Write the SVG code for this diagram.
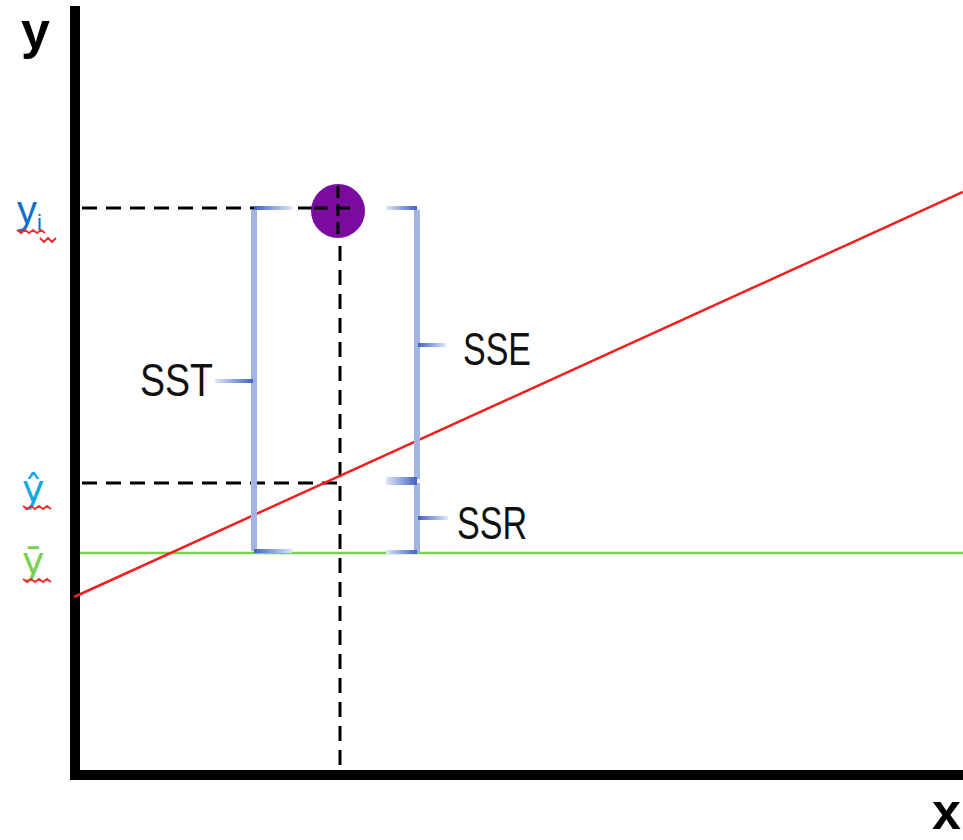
<svg xmlns="http://www.w3.org/2000/svg" width="963" height="840" viewBox="0 0 963 840">
<style>
.dash{stroke:#000;stroke-width:3;stroke-dasharray:15 9;fill:none}
.brace{stroke:#a2b5e2;stroke-width:6;fill:none}
.lbl{font-family:"Liberation Sans","DejaVu Sans",sans-serif;font-size:47px;fill:#111}
.ax{font-family:"Liberation Sans","DejaVu Sans",sans-serif;font-weight:bold;font-size:52px;fill:#000}
.sq{stroke:#f03030;stroke-width:2;fill:none}
</style>
<defs>
<linearGradient id="gR" x1="0" x2="1" y1="0" y2="0"><stop offset="0" stop-color="#3f63c2"/><stop offset="1" stop-color="#dfe6f6"/></linearGradient>
<linearGradient id="gL" x1="1" x2="0" y1="0" y2="0"><stop offset="0" stop-color="#3f63c2"/><stop offset="1" stop-color="#dfe6f6"/></linearGradient>
</defs>
<rect width="963" height="840" fill="#fff"/>
<g id="axes">
<rect x="70" y="6" width="10" height="774" fill="#000"/>
<rect x="70" y="770" width="893" height="10" fill="#000"/>
<text class="ax" x="21" y="48">y</text>
<text class="ax" x="932" y="829" font-size="44">x</text>
</g>
<g id="connectors">
<line class="dash" x1="82" y1="208" x2="340" y2="208"/>
<line class="dash" x1="82" y1="483" x2="340" y2="483"/>
<line class="dash" x1="340" y1="188" x2="340" y2="770" stroke-dashoffset="-10"/>
<line x1="80" y1="553" x2="963" y2="553" stroke="#78d050" stroke-width="2.5"/>
<line x1="74" y1="597" x2="963" y2="192" stroke="#f02020" stroke-width="2.5"/>
</g>
<g id="point"><circle cx="338" cy="211" r="27" fill="#7a0aa0"/>
<line x1="338" y1="186" x2="338" y2="236" stroke="#000" stroke-width="3" stroke-dasharray="12 6"/>
<line x1="312" y1="208" x2="356" y2="208" stroke="#000" stroke-width="3" stroke-dasharray="14 8" stroke-dashoffset="-2"/>
</g>
<g id="SST">
<line class="brace" x1="254" y1="210" x2="254" y2="551"/>
<rect x="254" y="206" width="38" height="4" fill="url(#gR)"/>
<rect x="254" y="549" width="38" height="4" fill="url(#gR)"/>
<rect x="215" y="379" width="38" height="4" fill="url(#gL)"/>
<text class="lbl" x="140" y="396" textLength="73" lengthAdjust="spacingAndGlyphs">SST</text>
</g>
<g id="SSE">
<line class="brace" x1="417" y1="210" x2="417" y2="479"/>
<rect x="386" y="206" width="31" height="4" fill="url(#gL)"/>
<rect x="386" y="477" width="31" height="4" fill="url(#gL)"/>
<rect x="418" y="343" width="28" height="4" fill="url(#gR)"/>
<text class="lbl" x="463" y="365" textLength="68" lengthAdjust="spacingAndGlyphs">SSE</text>
</g>
<g id="SSR">
<line class="brace" x1="417" y1="483" x2="417" y2="553"/>
<rect x="386" y="481" width="31" height="4" fill="url(#gL)"/>
<rect x="386" y="550" width="31" height="4" fill="url(#gL)"/>
<rect x="418" y="516" width="30" height="4" fill="url(#gR)"/>
<text class="lbl" x="457" y="539" textLength="70" lengthAdjust="spacingAndGlyphs">SSR</text>
</g>
<g id="ylabels">
<text x="17" y="224" font-family="Liberation Sans,DejaVu Sans,sans-serif" font-size="40" fill="#1070c8">y<tspan font-size="22" dy="6">i</tspan></text>
<path class="sq" d="M17 230 l4 3 4 -3 4 3 4 -3 4 3 4 -3 4 3"/>
<path class="sq" d="M40 238 l4 4 4 -4 4 4 4 -4"/>
<text x="22" y="502" font-family="DejaVu Sans,Liberation Sans,sans-serif" font-size="38" fill="#10a8e8">ŷ</text>
<path class="sq" d="M23 506 l4 3 4 -3 4 3 4 -3 4 3 4 -3 4 3"/>
<text x="22" y="574" font-family="DejaVu Sans,Liberation Sans,sans-serif" font-size="38" fill="#78d050">ȳ</text>
<path class="sq" d="M23 579 l4 3 4 -3 4 3 4 -3 4 3 4 -3 4 3"/>
</g>
</svg>
